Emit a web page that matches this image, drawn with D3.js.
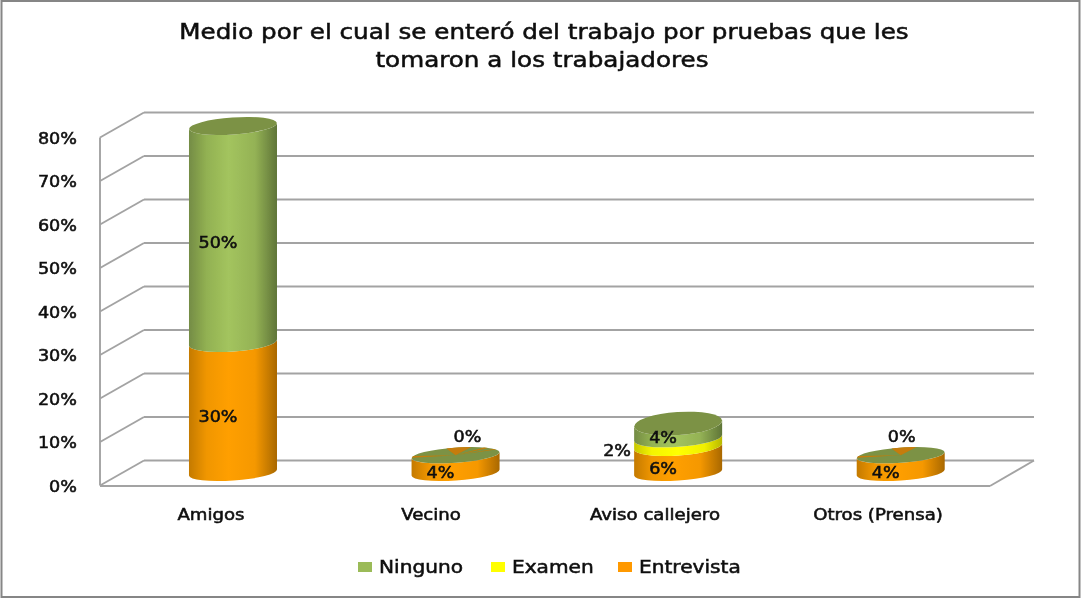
<!DOCTYPE html>
<html><head><meta charset="utf-8">
<script src="https://cdn.jsdelivr.net/npm/d3@7/dist/d3.min.js"></script>
<style>html,body{margin:0;padding:0;background:#fff}svg{display:block}</style>
</head><body><div id="c"></div>
<script>
const titleLines=["Medio por el cual se enteró del trabajo por pruebas que les","tomaron a los trabajadores"];
const categories=["Amigos","Vecino","Aviso callejero","Otros (Prensa)"];
const entrevista=[30,4,6,4];
const examen=[0,0,2,0];
const ninguno=[50,0,4,0];
const yTicks=[0,10,20,30,40,50,60,70,80];
const seriesNames=["Ninguno","Examen","Entrevista"];

const W=1081,H=599;
const font="'DejaVu Sans',Verdana,sans-serif";
const svg=d3.select("#c").append("svg").attr("width",W).attr("height",H);
const defs=svg.append("defs");
function grad(id,stops){
  const g=defs.append("linearGradient").attr("id",id);
  stops.forEach(s=>g.append("stop").attr("offset",s[0]).attr("stop-color",s[1]));
}
grad("gG",[[0,"#748c45"],[.2,"#92b152"],[.45,"#a3c45e"],[.75,"#94b255"],[1,"#5f7538"]]);
grad("gY",[[0,"#c8c800"],[.2,"#f4f400"],[.5,"#ffff00"],[.8,"#f0f000"],[1,"#b8b800"]]);
grad("gO",[[0,"#c47a00"],[.2,"#f09600"],[.45,"#ff9f00"],[.75,"#f59800"],[1,"#a96800"]]);
defs.append("filter").attr("id","soft").append("feGaussianBlur").attr("stdDeviation",0.45);

const root=svg.append("g").attr("filter","url(#soft)");
root.append("rect").attr("x",1.5).attr("y",1).attr("width",W-3).attr("height",H-3)
  .attr("fill","#fff").attr("stroke","#868686").attr("stroke-width",2);

const text=(x,y,t,size,anchor="middle",sx=1.12,weight=.55)=>root.append("text")
  .attr("transform",`translate(${x},${y}) scale(${sx},1)`).text(t)
  .attr("font-family",font).attr("font-size",size).attr("text-anchor",anchor)
  .attr("fill","#111").attr("stroke","#111").attr("stroke-width",weight);

text(544,39,titleLines[0],22);
text(542,67,titleLines[1],22);

// plot frame
const y=d3.scaleLinear().domain([0,80]).range([485.5,137.5]);
const dx=44,dy=-25,frontR=990;
const gridC="#a3a3a3";
const line=(x1,y1,x2,y2)=>root.append("line").attr("x1",x1).attr("y1",y1).attr("x2",x2).attr("y2",y2)
  .attr("stroke",gridC).attr("stroke-width",1.9);
yTicks.forEach(v=>{
  line(100,y(v),100+dx,y(v)+dy);
  line(100+dx,y(v)+dy,frontR+dx,y(v)+dy);
  text(77,y(v)+6,v+"%",15.7,"end");
});
line(100,y(0),100,y(80));
line(100,y(0)+.5,frontR,y(0)+.5);
line(frontR,y(0)+.5,frontR+dx,y(0)+dy);

// cylinders
const band=d3.scaleBand().domain(categories).range([121.7,1012]);
const cx=c=>band(c)+band.bandwidth()/2;
const h=d3.scaleLinear().domain([0,80]).range([472.5,126]);
const rx=44, tilt=-4;
const lean=rx*Math.tan(-tilt*Math.PI/180);
const topRy=[8.5,7.5,11.5,7.5];
const topShift=[0,0,3,0];
const baseRy=8;

function side(g,x,yl,yh,ryLo,ryHi,fill){
  g.append("path").attr("fill",fill)
   .attr("d",`M${x-rx},${yh+lean}L${x-rx},${yl+lean}A${rx},${ryLo} ${tilt} 0 0 ${x+rx},${yl-lean}L${x+rx},${yh-lean}A${rx},${ryHi} ${tilt} 0 1 ${x-rx},${yh+lean}Z`);
}
categories.forEach((c,i)=>{
  const x=cx(c),g=root.append("g");
  const a=entrevista[i],b=a+examen[i],t=b+ninguno[i];
  const ry=topRy[i], yTop=h(t)+topShift[i];
  const midRy=(examen[i]>0||ninguno[i]>0)?baseRy+1:ry;
  side(g,x,h(0),ninguno[i]===0&&examen[i]===0?yTop:h(a),baseRy,midRy,"url(#gO)");
  if(examen[i]>0) side(g,x,h(a),h(b),midRy,midRy,"url(#gY)");
  if(ninguno[i]>0) side(g,x,h(b),yTop,midRy,ry,"url(#gG)");
  const top=g.append("g").attr("transform",`translate(${x},${yTop}) rotate(${tilt}) scale(1,${ry/rx})`);
  top.append("circle").attr("r",rx).attr("fill","#7b9244");
  if(ninguno[i]===0){
    // zero-height series leave overlapping wedges on the top face
    const arc=d3.arc().innerRadius(0).outerRadius(rx);
    const wedges=i===1?[[-.2,.38],[-1.5,-1.28],[.72,.84],[1.08,1.18]]:[[-.2,.38],[-1.5,-1.28]];
    wedges.forEach(w=>top.append("path").attr("fill","#c67c08")
      .attr("d",arc({startAngle:w[0],endAngle:w[1]})));
  }
});

// data labels and category labels, above every cylinder
categories.forEach((c,i)=>{
  const x=cx(c);
  const a=entrevista[i],b=a+examen[i];
  const lx=x-15;
  const lab=(v,px,py)=>text(px,py,v+"%",15.7);
  lab(a,lx,h(a/2)+14);
  if(ninguno[i]>0) lab(ninguno[i],lx,h(b+ninguno[i]/2)+14);
  if(examen[i]>0) lab(examen[i],x-61,h(a+examen[i]/2)+14);
  if(i===1) lab(examen[i]+ninguno[i],x+12,442);
  if(i===3) lab(examen[i]+ninguno[i],x+1,442);
  text([211,431,655,878][i],520,c,15.5,"middle",1.17);
});

// legend
const legendX=[358,491,618];
const legendFill=["#9bbb59","#ffff00","#ff9900"];
seriesNames.forEach((n,i)=>{
  root.append("rect").attr("x",legendX[i]).attr("y",562).attr("width",14).attr("height",10).attr("fill",legendFill[i]);
  text(legendX[i]+21,573,n,17.5,"start",1.15);
});
</script></body></html>
